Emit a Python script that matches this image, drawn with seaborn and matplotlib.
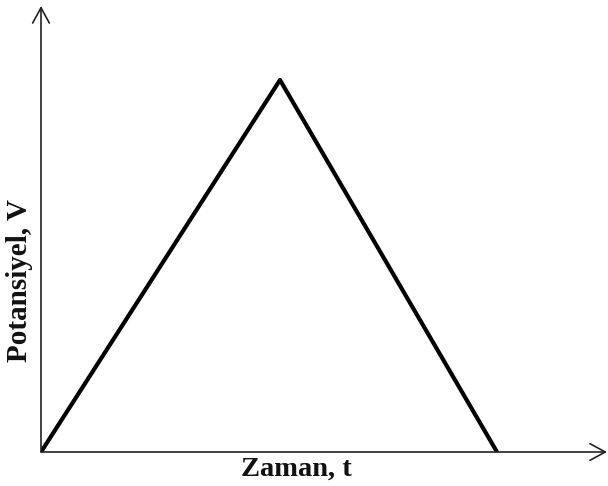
import matplotlib
matplotlib.use("Agg")
import matplotlib.pyplot as plt
import seaborn as sns
import pandas as pd

# data (normalized units)
time = [0.0, 1.0, 1.908]
potential = [0.0, 1.0, 0.0]
x_label = "Zaman, t"
y_label = "Potansiyel, V"

sns.set_theme(style="white")
plt.rcParams['font.family'] = ['Liberation Serif', 'DejaVu Serif']

W, H = 608, 486
fig = plt.figure(figsize=(W / 100, H / 100), dpi=100)
ax = fig.add_axes([41 / W, (H - 452) / H, (607 - 41) / W, (452 - 6) / H])

df = pd.DataFrame({"t": time, "V": potential})
sns.lineplot(data=df, x="t", y="V", ax=ax, color="black", linewidth=3.0,
             sort=False, estimator=None)

ax.set_xlim(0, 566 / 239)
ax.set_ylim(0, 446 / 372)
ax.set_xticks([])
ax.set_yticks([])
ax.set_xlabel("")
ax.set_ylabel("")
for s in ax.spines.values():
    s.set_visible(False)

arrow_kw = dict(arrowstyle="->,head_length=0.55,head_width=0.3", color="#222222",
                lw=1.2, mutation_scale=20, shrinkA=0, shrinkB=0)
ax.annotate("", xy=(0, 1), xytext=(0, 0), xycoords="axes fraction",
            textcoords="axes fraction", arrowprops=arrow_kw, annotation_clip=False)
ax.annotate("", xy=(1, 0), xytext=(0, 0), xycoords="axes fraction",
            textcoords="axes fraction", arrowprops=arrow_kw, annotation_clip=False)

fig.text(296 / W, 1 - 469 / H, x_label, ha="center", va="center",
         fontsize=20.5, fontweight="bold", color="#111111")
fig.text(20 / W, 1 - 280 / H, y_label, ha="center", va="center", rotation=90,
         fontsize=21, fontweight="bold", color="#111111")

fig.savefig("out.png", dpi=100)
